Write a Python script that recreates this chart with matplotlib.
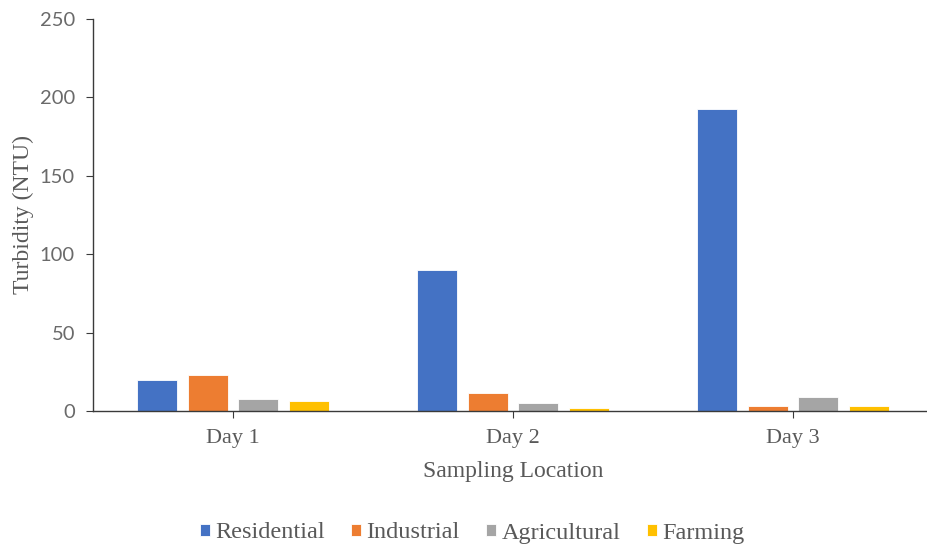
import numpy as np
import matplotlib.pyplot as plt

days = ["Day 1", "Day 2", "Day 3"]
series = ["Residential", "Industrial", "Agricultural", "Farming"]
residential = [20, 90, 192.5]
industrial = [23, 11.5, 3.3]
agricultural = [7.4, 5.4, 9.0]
farming = [6.6, 2.2, 3.3]
colors = ["#4472C4", "#ED7D31", "#A5A5A5", "#FFC000"]

values = [residential, industrial, agricultural, farming]

fig = plt.figure(figsize=(9.28, 5.48), dpi=100)
ax = fig.add_axes([93 / 928, 1 - 411 / 548, 840 / 928, 392 / 548])

x = np.arange(len(days))
pitch = 0.181
width = 0.143
for i, (name, vals, c) in enumerate(zip(series, values, colors)):
    ax.bar(x + (i - 1.5) * pitch, vals, width, color=c, label=name,
           edgecolor="white", linewidth=0.6)

ax.set_xlim(-0.5, 2.5)
ax.set_ylim(0, 250)
ax.set_yticks(range(0, 251, 50))
ax.set_xticks(x)
ax.set_xticklabels(days, family="Liberation Serif", fontsize=16, color="#595959")
for lab in ax.get_yticklabels():
    lab.set_family("Lato")
    lab.set_fontsize(14.5)
    lab.set_color("#6a6a6a")

ax.spines["top"].set_visible(False)
ax.spines["right"].set_visible(False)
for s in ("left", "bottom"):
    ax.spines[s].set_color("#3a3a3a")
    ax.spines[s].set_linewidth(1.0)
ax.tick_params(axis="y", direction="out", length=5, color="#3a3a3a", pad=8)
ax.tick_params(axis="x", direction="out", length=5, color="#3a3a3a", pad=8)

ax.set_ylabel("Turbidity (NTU)", family="Liberation Serif", fontsize=17,
              color="#595959", labelpad=4)
ax.set_xlabel("Sampling Location", family="Liberation Serif", fontsize=17,
              color="#595959", labelpad=9)

leg = fig.legend(loc="center", bbox_to_anchor=(472 / 928, 1 - 533 / 548), ncol=4,
                 frameon=False, handlelength=0.42, handleheight=0.42,
                 handletextpad=0.2, columnspacing=1.1,
                 prop={"family": "Liberation Serif", "size": 17.5})
for t in leg.get_texts():
    t.set_color("#595959")

fig.savefig("out.png", dpi=100)
